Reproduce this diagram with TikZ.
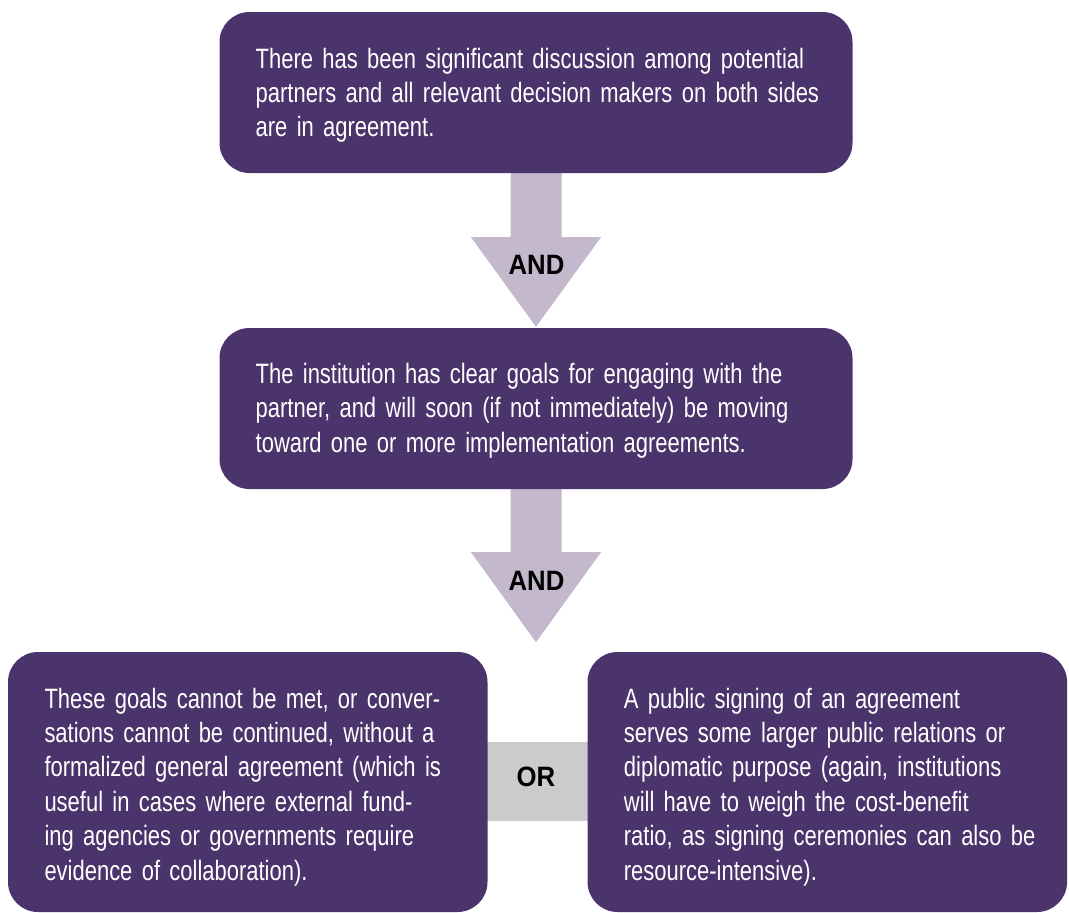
\documentclass[tikz,border=0pt]{standalone}
\usepackage{fontspec}
\setmainfont{Liberation Sans}
\newfontfamily\boxfont[FakeStretch=0.785,WordSpace=0.75]{Liberation Sans}
\newfontfamily\labfont[FakeStretch=0.92]{Liberation Sans}
\usetikzlibrary{calc,backgrounds}
\definecolor{boxpurple}{HTML}{4B336B}
\definecolor{arrowlav}{HTML}{C3B8CC}
\definecolor{orgray}{HTML}{CBCBCB}
\tikzset{
  box/.style={fill=boxpurple, draw=none, rounded corners=30pt, inner sep=0pt},
  boxtext/.style={text=white, font=\boxfont\fontsize{28}{34.4}\selectfont, anchor=base west, align=left, inner sep=0pt},
  lab/.style={font=\labfont\bfseries\fontsize{28}{34}\selectfont, text=black, inner sep=0pt},
  flowarrow/.style={fill=arrowlav, draw=none},
  orbar/.style={fill=orgray, draw=none, inner sep=0pt}
}
\begin{document}
\begin{tikzpicture}[x=1pt,y=-1pt]
\useasboundingbox (0,0) rectangle (1069,913);

% boxes
\node[box, minimum width=633pt, minimum height=161pt] (b1) at (536,92.5) {};
\node[box, minimum width=633pt, minimum height=161pt] (b2) at (536,408.5) {};
\node[box, minimum width=479.5pt, minimum height=260pt] (b3) at (247.75,782) {};
\node[box, minimum width=479.5pt, minimum height=260pt] (b4) at (827.3,782) {};

% texts
\node[boxtext, text width=590pt] (t1) at (255.5,68) {There has been significant discussion among potential\\partners and all relevant decision makers on both sides\\are in agreement.};
\node[boxtext, text width=590pt] (t2) at (255.5,383.3) {The institution has clear goals for engaging with the\\partner, and will soon (if not immediately) be moving\\toward one or more implementation agreements.};
\node[boxtext, text width=436pt] (t3) at (44.3,708) {These goals cannot be met, or conver-\\sations cannot be continued, without a\\formalized general agreement (which is\\useful in cases where external fund-\\ing agencies or governments require\\evidence of collaboration).};
\node[boxtext, text width=436pt] (t4) at (623.7,708) {A public signing of an agreement\\serves some larger public relations or\\diplomatic purpose (again, institutions\\will have to weigh the cost-benefit\\ratio, as signing ceremonies can also be\\resource-intensive).};

% arrows and bar behind
\begin{scope}[on background layer]
\fill[white] (0,0) rectangle (1069,913);
\fill[flowarrow] ($(b1.south)+(-25.5,-2)$) -- ($(b1.south)+(-25.5,64)$) -- ($(b1.south)+(-65,64)$)
  -- ($(b2.north)+(0,-1)$) -- ($(b1.south)+(65,64)$) -- ($(b1.south)+(25.5,64)$) -- ($(b1.south)+(25.5,-2)$) -- cycle;
\fill[flowarrow] ($(b2.south)+(-25.5,-2)$) -- ($(b2.south)+(-25.5,63)$) -- ($(b2.south)+(-65,63)$)
  -- ($(b2.south)+(0,153)$) -- ($(b2.south)+(65,63)$) -- ($(b2.south)+(25.5,63)$) -- ($(b2.south)+(25.5,-2)$) -- cycle;
\node[orbar, minimum width=102pt, minimum height=79pt] (bar) at (537.5,781.5) {};
\end{scope}

% labels
\node[lab] (and1) at (536.5,265) {AND};
\node[lab] (and2) at (536.5,581) {AND};
\node[lab] (or) at (536,777) {OR};
\end{tikzpicture}
\end{document}
